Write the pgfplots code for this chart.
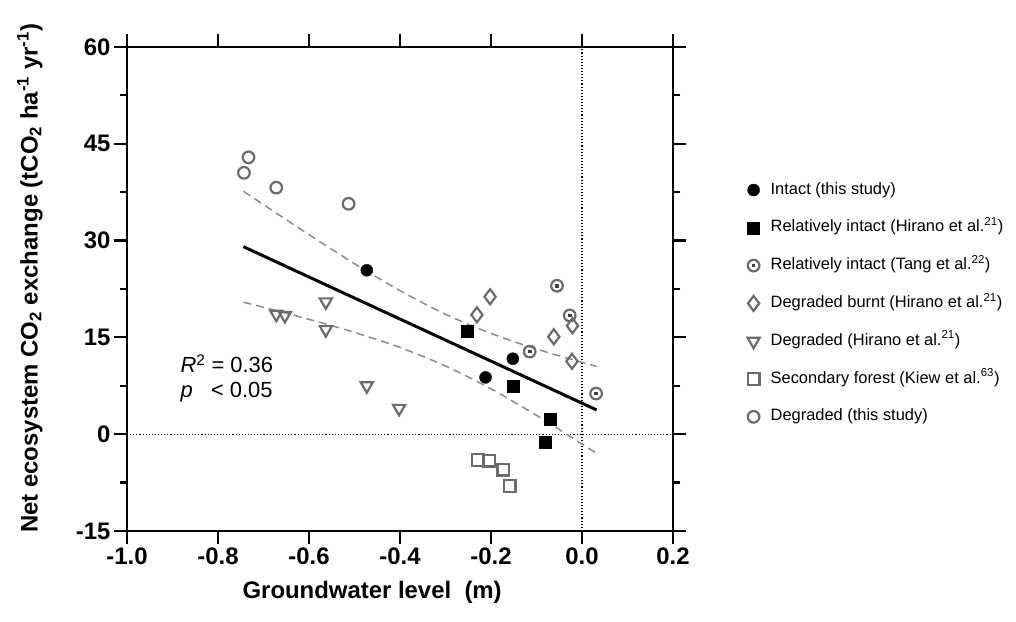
\documentclass[border=0pt]{standalone}
\usepackage{fontspec}
\setmainfont{Liberation Sans}
\usepackage{pgfplots}
\pgfplotsset{compat=1.18}
\definecolor{mk}{gray}{0.42}
\definecolor{mkdark}{gray}{0.25}
\definecolor{bandc}{gray}{0.55}
\pgfdeclareplotmark{dotcircle}{%
  \pgfpathcircle{\pgfpointorigin}{\pgfplotmarksize}%
  \pgfusepathqstroke
  \pgfpathrectangle{\pgfpoint{-0.32\pgfplotmarksize}{-0.32\pgfplotmarksize}}{\pgfpoint{0.64\pgfplotmarksize}{0.64\pgfplotmarksize}}%
  \pgfusepathqfill
}
\pgfplotsset{
  sc/.style={only marks, legend image code/.code={\draw[##1] plot coordinates {(0bp,0bp)};}},
}
\begin{document}
\begin{tikzpicture}[x=1bp,y=1bp]
\path[use as bounding box] (0,0) rectangle (1016,622);
\begin{axis}[
  at={(127bp,91bp)}, anchor=south west,
  scale only axis, width=546bp, height=484bp,
  xmin=-1, xmax=0.2, ymin=-15, ymax=60,
  xtick={-1,-0.8,-0.6,-0.4,-0.2,0,0.2},
  xticklabels={-1.0,-0.8,-0.6,-0.4,-0.2,0.0,0.2},
  ytick={-15,0,15,30,45,60},
  yticklabels={-15,0,15,30,45,60},
  minor ytick={-7.5,7.5,22.5,37.5,52.5},
  tick align=outside, tick pos=both,
  major tick length=13bp, minor tick length=7bp,
  tick style={black, line width=2.2bp},
  axis line style={line width=2.5bp},
  ticklabel style={font=\fontsize{24}{28}\selectfont\bfseries},
  xlabel={Groundwater level\ \ (m)},
  ylabel={Net ecosystem CO\textsubscript{2} exchange (tCO\textsubscript{2} ha\textsuperscript{-1} yr\textsuperscript{-1})},
  label style={font=\fontsize{24}{28}\selectfont\bfseries},
  xlabel style={at={(axis description cs:0.449,-0.126)}, anchor=center},
  ylabel style={at={(axis description cs:-0.178,0.522)}, anchor=center},
  legend style={at={(1.1365,0.721)}, anchor=north west, draw=none, fill=none,
    inner sep=0pt, outer sep=0pt, font=\fontsize{16.5}{19}\selectfont,
    row sep=21.8bp, nodes={inner sep=0pt, text height=12bp, text depth=4bp},
    /tikz/every odd column/.style={column sep=11bp}},
  legend cell align=left,
  clip=false,
]
% zero reference lines
\addplot[forget plot, black, line width=1.1bp, dash pattern=on 1.1bp off 2bp] coordinates {(-1,0) (0.2,0)};
\addplot[forget plot, black, line width=1.1bp, dash pattern=on 1.1bp off 2bp] coordinates {(0,-15) (0,60)};
% confidence bands
\addplot[forget plot, bandc, line width=1.5bp, dash pattern=on 8bp off 5bp, smooth] coordinates {
(-0.744,37.65) (-0.7,35.57) (-0.6,30.92) (-0.5,26.43) (-0.4,22.24) (-0.3,18.59) (-0.2,15.61) (-0.1,13.20) (0,11.13) (0.032,10.51)};
\addplot[forget plot, bandc, line width=1.5bp, dash pattern=on 8bp off 5bp, smooth] coordinates {
(-0.744,20.45) (-0.7,19.67) (-0.6,17.80) (-0.5,15.77) (-0.4,13.44) (-0.3,10.57) (-0.2,7.03) (-0.1,2.92) (0,-1.53) (0.032,-2.99)};
% regression line
\addplot[forget plot, black, line width=3bp] coordinates {(-0.744,29.05) (0.032,3.76)};
% data
\addplot[sc, mark=*, mark size=6bp, mark options={draw=black, fill=black}] coordinates {
(-0.473,25.4) (-0.152,11.7) (-0.212,8.8)};
\addlegendentry{Intact (this study)}
\addplot[sc, mark=square*, mark size=6bp, mark options={draw=black, fill=black}] coordinates {
(-0.252,16.0) (-0.152,7.4) (-0.071,2.3) (-0.082,-1.3)};
\addlegendentry{Relatively intact (Hirano et al.\textsuperscript{21})}
\addplot[sc, mark=dotcircle, mark size=5.8bp, mark options={draw=mk, fill=mkdark, line width=2.2bp}] coordinates {
(-0.055,23.0) (-0.027,18.4) (-0.115,12.8) (0.031,6.3)};
\addlegendentry{Relatively intact (Tang et al.\textsuperscript{22})}
\addplot[sc, mark=diamond, mark size=7.5bp, mark options={draw=mk, line width=2.2bp}] coordinates {
(-0.202,21.3) (-0.231,18.5) (-0.021,16.8) (-0.062,15.1) (-0.022,11.3)};
\addlegendentry{Degraded burnt (Hirano et al.\textsuperscript{21})}
\addplot[sc, mark=triangle, mark size=7bp, mark options={draw=mk, line width=2.2bp, rotate=180}] coordinates {
(-0.672,18.6) (-0.653,18.4) (-0.563,20.5) (-0.563,16.2) (-0.473,7.5) (-0.402,4.0)};
\addlegendentry{Degraded (Hirano et al.\textsuperscript{21})}
\addplot[sc, mark=square, mark size=5.8bp, mark options={draw=mk, line width=2.2bp}] coordinates {
(-0.229,-4.0) (-0.204,-4.1) (-0.173,-5.5) (-0.159,-8.0)};
\addlegendentry{Secondary forest (Kiew et al.\textsuperscript{63})}
\addplot[sc, mark=o, mark size=5.8bp, mark options={draw=mk, line width=2.2bp}] coordinates {
(-0.733,42.9) (-0.743,40.5) (-0.672,38.2) (-0.513,35.7)};
\addlegendentry{Degraded (this study)}
% annotation
\node[anchor=west, font=\fontsize{22}{26}\selectfont] at (axis cs:-0.890,10.9) {\textit{R}\textsuperscript{2} = 0.36};
\node[anchor=west, font=\fontsize{22}{26}\selectfont] at (axis cs:-0.890,6.5) {\textit{p}\ \ \ < 0.05};
\end{axis}
\end{tikzpicture}
\end{document}
